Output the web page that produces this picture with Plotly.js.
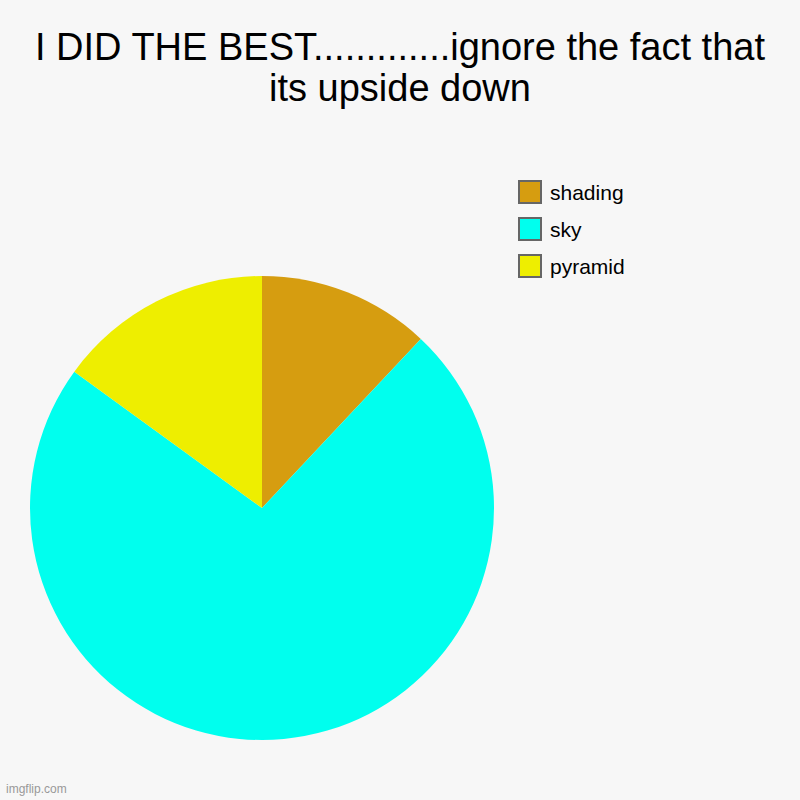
<!DOCTYPE html>
<html>
<head>
<script src="https://cdn.plot.ly/plotly-3.0.1.min.js"></script>
<style>body{margin:0;background:#f7f7f7}</style>
</head>
<body>
<div id="myDiv" style="width:800px;height:800px"></div>
<script>
var labels = ["shading", "sky", "pyramid"];
var values = [12, 73, 15];
var colors = ["#d69d10", "#00ffee", "#eeee00"];
var titleLines = ["I DID THE BEST.............ignore the fact that", "its upside down"];

var data = [
  {
    type: "pie",
    labels: labels,
    values: values,
    sort: false,
    direction: "clockwise",
    rotation: 0,
    textinfo: "none",
    hoverinfo: "label+percent",
    showlegend: false,
    marker: { colors: colors, line: { width: 0 } },
    domain: { x: [0.0375, 0.6175], y: [0.075, 0.655] }
  }
];

// legend drawn by hand so the boxes and spacing look like the original
var shapes = [];
var annotations = [];
labels.forEach(function (lab, i) {
  var cy = 1 - (192 + 37 * i) / 800;
  shapes.push({
    type: "rect", xref: "paper", yref: "paper",
    x0: 519 / 800, x1: 541 / 800,
    y0: cy - 11 / 800, y1: cy + 11 / 800,
    fillcolor: colors[i],
    line: { color: "#666", width: 2 }
  });
  annotations.push({
    text: lab, showarrow: false, xref: "paper", yref: "paper",
    x: 548 / 800, y: cy, xanchor: "left", yanchor: "middle",
    font: { size: 21, color: "#000" }
  });
});

annotations.push({
  text: titleLines[1], showarrow: false, xref: "paper", yref: "paper",
  x: 0.5, y: 1 - 88 / 800, xanchor: "center", yanchor: "middle",
  font: { size: 38, color: "#000" }
});

annotations.push({
  text: "imgflip.com", showarrow: false, xref: "paper", yref: "paper",
  x: 0.005, y: 0.003, xanchor: "left", yanchor: "bottom",
  font: { size: 12, color: "#999" }
});

var layout = {
  width: 800,
  height: 800,
  margin: { l: 0, r: 0, t: 0, b: 0 },
  paper_bgcolor: "#f7f7f7",
  plot_bgcolor: "#f7f7f7",
  font: { family: "Liberation Sans, Arial, sans-serif", color: "#000" },
  title: {
    text: titleLines[0],
    font: { size: 38, color: "#000" },
    x: 0.5,
    xanchor: "center",
    y: 1 - 47 / 800,
    yanchor: "middle"
  },
  showlegend: false,
  shapes: shapes,
  annotations: annotations
};

Plotly.newPlot("myDiv", data, layout, { displayModeBar: false });
</script>
</body>
</html>
